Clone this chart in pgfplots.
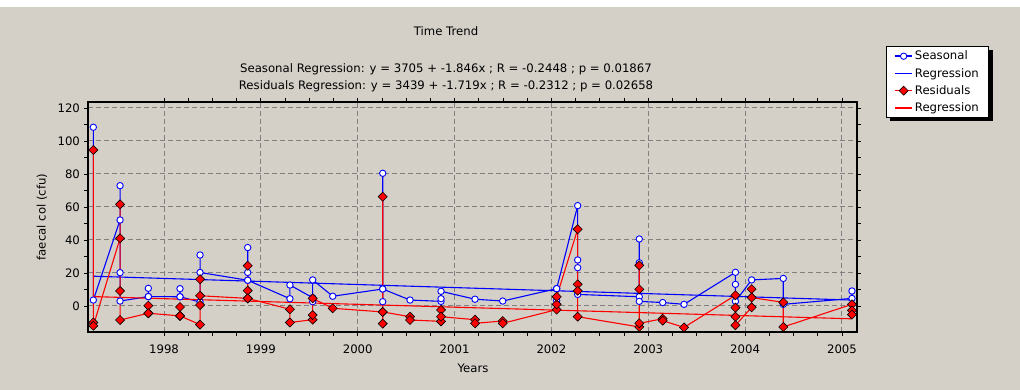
\documentclass[border=0pt]{standalone}
\usepackage{pgfplots}
\pgfplotsset{compat=1.18}
\usepackage{pgfplotstable}
\usepackage{fontspec}
\setmainfont{DejaVu Sans}
\definecolor{panel}{HTML}{D4D0C8}
\definecolor{gridgray}{HTML}{808080}
\definecolor{ablue}{HTML}{0000FF}
\definecolor{ared}{HTML}{FF0000}

\pgfplotstableread{
x y
1997.27 108.3
1997.27 3.6
1997.546 52.1
1997.546 72.9
1997.546 20.2
1997.546 3.0
1997.838 5.7
1997.838 10.7
1997.838 5.7
1998.165 5.6
1998.165 10.5
1998.165 5.6
1998.372 2.4
1998.372 30.9
1998.372 20.3
1998.864 15.6
1998.864 35.4
1998.864 20.3
1998.864 15.6
1999.30 4.4
1999.30 12.7
1999.535 5.0
1999.535 2.6
1999.535 15.8
1999.742 5.9
2000.258 10.3
2000.258 80.4
2000.258 2.6
2000.258 10.3
2000.54 3.6
2000.86 2.8
2000.86 4.4
2000.86 8.9
2001.211 4.1
2001.497 3.0
2002.054 10.5
2002.054 3.3
2002.054 10.5
2002.271 60.8
2002.271 27.9
2002.271 23.2
2002.271 7.0
2002.907 5.6
2002.907 40.6
2002.907 26.2
2002.907 2.8
2003.149 2.1
2003.369 1.0
2003.90 20.4
2003.90 13.1
2003.90 2.8
2004.067 15.8
2004.394 16.7
2004.394 1.0
2005.103 4.6
2005.103 9.1
}\seasonal

\pgfplotstableread{
x y
1997.27 94.5
1997.27 -10.0
1997.27 -12.0
1997.546 41.0
1997.546 61.6
1997.546 9.1
1997.546 -8.5
1997.838 -4.4
1997.838 0.2
1997.838 -4.4
1998.165 -6.0
1998.165 -0.6
1998.165 -6.0
1998.372 -11.3
1998.372 0.6
1998.372 16.2
1998.372 6.2
1998.864 4.6
1998.864 24.4
1998.864 9.3
1998.864 4.6
1999.30 -2.0
1999.30 -10.0
1999.535 -8.3
1999.535 -5.5
1999.535 4.6
1999.742 -1.4
2000.258 -3.6
2000.258 66.2
2000.258 -10.7
2000.258 -3.6
2000.54 -6.5
2000.54 -8.5
2000.86 -9.3
2000.86 -2.4
2000.86 -6.5
2001.211 -8.3
2001.211 -10.5
2001.497 -9.1
2001.497 -10.5
2002.054 -2.2
2002.054 1.0
2002.054 5.6
2002.271 46.5
2002.271 13.1
2002.271 9.2
2002.271 -6.5
2002.907 -12.7
2002.907 24.6
2002.907 10.1
2002.907 -10.5
2003.149 -7.7
2003.149 -8.9
2003.369 -13.0
2003.90 6.5
2003.90 -1.0
2003.90 -6.5
2003.90 -11.7
2004.067 -0.8
2004.067 10.2
2004.067 5.1
2004.394 2.2
2004.394 -12.7
2005.103 1.0
2005.103 -2.7
2005.103 -5.2
}\residuals

\begin{document}
\fontsize{11.7}{14}\selectfont
\begin{tikzpicture}
\useasboundingbox (0pt,0pt) rectangle (1020pt,390pt);
\fill[panel] (0pt,0pt) rectangle (1020pt,390pt);
\fill[white] (0pt,383pt) rectangle (1020pt,390pt);
\fill[black] (890pt,340pt) rectangle (993pt,269pt);
\node[anchor=base] at (446pt,354pt) {Time Trend};
\node[anchor=base] at (446pt,317pt) {Seasonal Regression: y = 3705 + -1.846x ; R = -0.2448 ; p = 0.01867};
\node[anchor=base] at (446pt,300pt) {Residuals Regression: y = 3439 + -1.719x ; R = -0.2312 ; p = 0.02658};
\begin{axis}[
  at={(88pt,58pt)}, anchor=south west,
  scale only axis, width=769pt, height=230pt,
  xmin=1997.215, xmax=2005.155, ymin=-15.76, ymax=123.6,
  xtick={1998,1999,2000,2001,2002,2003,2004,2005},
  ytick={0,20,40,60,80,100,120},
  minor x tick num=3, minor y tick num=1,
  /pgf/number format/assume math mode=true,
  xticklabel style={/pgf/number format/1000 sep={}, yshift=-5pt},
  tick label style={font=\fontsize{11.7}{14}\selectfont},
  tick align=outside, major tick length=4pt, minor tick length=4pt,
  tick style={black, line width=0.8pt},
  grid=major,
  major grid style={gridgray, dash pattern=on 5pt off 3pt, line width=1pt},
  axis line style={black, line width=1.2pt},
  xlabel={Years}, ylabel={faecal col (cfu)},
  every axis x label/.style={at={(axis description cs:0.5007,-0.1565)}, anchor=center},
  every axis y label/.style={at={(axis description cs:-0.0598,0.5)}, rotate=90, anchor=center},
  legend style={at={(1.0377,1.2435)}, anchor=north west, fill=white,
    line width=0.8pt, font=\fontsize{11.7}{14}\selectfont,
    row sep=2.6pt, inner xsep=8pt, inner ysep=2.5pt},
  legend cell align=left,
]
\addlegendimage{legend image code/.code={
  \draw[draw=ablue, line width=1.5pt] (0pt,0pt) -- (17pt,0pt);
  \draw[draw=ablue, fill=white, line width=0.9pt] (8.5pt,0pt) circle (3.2pt);}}
\addlegendentry{Seasonal}
\addlegendimage{legend image code/.code={
  \draw[draw=ablue, line width=1.5pt] (0pt,0pt) -- (17pt,0pt);}}
\addlegendentry{Regression}
\addlegendimage{legend image code/.code={
  \draw[draw=ared, line width=1.5pt] (0pt,0pt) -- (17pt,0pt);
  \draw[draw=black, fill=ared, line width=0.6pt] (8.5pt,4.5pt) -- (13pt,0pt) -- (8.5pt,-4.5pt) -- (4pt,0pt) -- cycle;}}
\addlegendentry{Residuals}
\addlegendimage{legend image code/.code={
  \draw[draw=ared, line width=1.5pt] (0pt,0pt) -- (17pt,0pt);}}
\addlegendentry{Regression}

\addplot[color=ablue, line width=1.1pt, no markers, forget plot] table[x=x,y=y] {\seasonal};
\addplot[color=ablue, line width=1.1pt, no markers, forget plot] coordinates {(1997.27,18.04) (2005.10,3.59)};
\addplot[color=ared, line width=1.1pt, no markers, forget plot] table[x=x,y=y] {\residuals};
\addplot[color=ared, line width=1.1pt, no markers, forget plot] coordinates {(1997.27,5.69) (2005.10,-7.77)};
\addplot[only marks, forget plot, mark=*, mark size=3.2pt, mark options={draw=ablue, fill=white, line width=0.9pt}] table[x=x,y=y] {\seasonal};
\addplot[only marks, forget plot, mark=square*, mark size=3.2pt, mark options={rotate=45, fill=ared, draw=black, line width=0.6pt}] table[x=x,y=y] {\residuals};
\end{axis}
\draw[black, line width=2.4pt] (88pt,288pt) -- (88pt,58pt) -- (857pt,58pt);
\end{tikzpicture}
\end{document}
